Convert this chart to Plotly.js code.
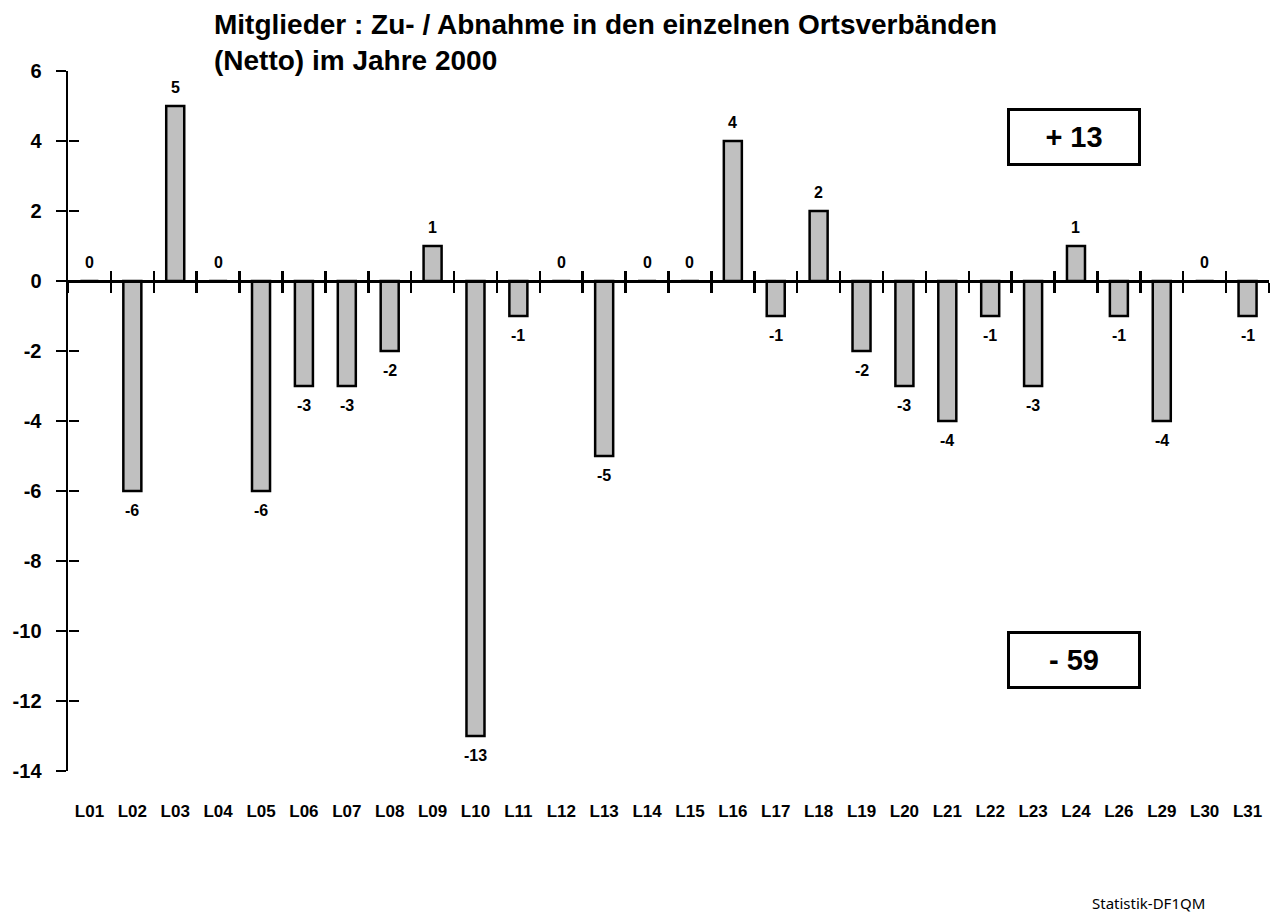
<!DOCTYPE html>
<html>
<head>
<meta charset="utf-8">
<script src="https://cdn.plot.ly/plotly-3.0.1.min.js"></script>
<style>html,body{margin:0;padding:0;background:#fff;}#chart{width:1282px;height:918px;}</style>
</head>
<body>
<div id="chart"></div>
<script>
const categories = ['L01','L02','L03','L04','L05','L06','L07','L08','L09','L10','L11','L12','L13','L14','L15','L16','L17','L18','L19','L20','L21','L22','L23','L24','L26','L29','L30','L31'];
const values = [0,-6,5,0,-6,-3,-3,-2,1,-13,-1,0,-5,0,0,4,-1,2,-2,-3,-4,-1,-3,1,-1,-4,0,-1];
const yTicks = [6,4,2,0,-2,-4,-6,-8,-10,-12,-14];
const titleLines = ['Mitglieder : Zu- / Abnahme in den einzelnen Ortsverbänden', '(Netto) im Jahre 2000'];
const totalPlus = '+ 13';
const totalMinus = '- 59';
const credit = 'Statistik-DF1QM';

const FONT = 'Arial, "Liberation Sans", sans-serif';
const xRange = [-0.5, categories.length - 0.5];
const yRange = [-14, 6];
const zeroPos = (0 - yRange[0]) / (yRange[1] - yRange[0]);
const LW = 2.5;

const traces = [
  {
    type: 'bar', x: categories, y: values, xaxis: 'x', yaxis: 'y',
    width: 0.42,
    marker: {color: '#c0c0c0', line: {color: '#000', width: LW}},
    hoverinfo: 'x+y', showlegend: false
  },
  {
    type: 'scatter', mode: 'markers', x: categories, y: values, xaxis: 'x2', yaxis: 'y',
    marker: {opacity: 0}, hoverinfo: 'skip', showlegend: false
  },
  {
    type: 'scatter', mode: 'markers', x: categories, y: values, xaxis: 'x3', yaxis: 'y2',
    marker: {opacity: 0}, hoverinfo: 'skip', showlegend: false
  }
];

const annotations = values.map((v, i) => ({
  x: categories[i], y: v, xref: 'x', yref: 'y',
  text: String(v), showarrow: false,
  xanchor: 'center', yanchor: 'middle',
  yshift: v >= 0 ? 19 : -19,
  font: {family: FONT, size: 16, color: '#000', weight: 'bold'}
}));

function totalBox(text, y) {
  return {
    xref: 'paper', yref: 'paper', x: 0.8376, y: y,
    xanchor: 'center', yanchor: 'middle',
    text: text, showarrow: false,
    width: 124, height: 48, borderpad: 2, bordercolor: '#000', borderwidth: 3,
    bgcolor: '#fff',
    font: {family: FONT, size: 29, color: '#000', weight: 'bold'}
  };
}
annotations.push(totalBox(totalPlus, 0.906));
annotations.push(totalBox(totalMinus, 0.159));
annotations.push({
  xref: 'paper', yref: 'paper', x: 0.948, y: -0.189,
  xanchor: 'right', yanchor: 'middle',
  text: credit, showarrow: false,
  font: {family: '"Noto Sans", "Open Sans", sans-serif', size: 15, color: '#000'}
});

const layout = {
  width: 1282, height: 918,
  paper_bgcolor: '#fff', plot_bgcolor: '#fff',
  margin: {l: 68, r: 13, t: 71, b: 147},
  showlegend: false,
  bargap: 0,
  title: {
    text: titleLines.join('<br>'),
    xref: 'container', yref: 'container',
    x: 214 / 1282, xanchor: 'left',
    y: 1 - 34 / 918, yanchor: 'top',
    font: {family: FONT, size: 28, color: '#000', weight: 'bold'}
  },
  xaxis: {
    type: 'category', categoryarray: categories, categoryorder: 'array',
    range: xRange, domain: [0, 1],
    showline: false, showgrid: false, zeroline: false,
    ticks: 'outside', ticklen: 0, tickcolor: 'rgba(0,0,0,0)',
    tickmode: 'linear', tick0: 0, dtick: 1,
    ticklabelstandoff: 25,
    tickfont: {family: FONT, size: 17, color: '#000', weight: 'bold'},
    fixedrange: true
  },
  xaxis2: {
    type: 'category', categoryarray: categories, categoryorder: 'array',
    overlaying: 'x', anchor: 'free', position: zeroPos, side: 'bottom',
    range: xRange,
    showline: true, linecolor: '#000', linewidth: LW,
    showgrid: false, zeroline: false,
    tickmode: 'linear', tick0: 0, dtick: 1,
    tickson: 'boundaries', ticks: 'outside', ticklen: 10, tickwidth: LW, tickcolor: '#000',
    showticklabels: false, fixedrange: true
  },
  xaxis3: {
    type: 'category', categoryarray: categories, categoryorder: 'array',
    overlaying: 'x', anchor: 'free', position: zeroPos, side: 'bottom',
    range: xRange,
    showline: false, showgrid: false, zeroline: false,
    tickmode: 'linear', tick0: 0, dtick: 1,
    tickson: 'boundaries', ticks: 'inside', ticklen: 10, tickwidth: LW, tickcolor: '#000',
    showticklabels: false, fixedrange: true
  },
  yaxis: {
    range: yRange, domain: [0, 1],
    tickmode: 'array', tickvals: yTicks, ticktext: yTicks.map(String),
    showline: true, linecolor: '#000', linewidth: LW,
    showgrid: false, zeroline: false,
    ticks: 'outside', ticklen: 10, tickwidth: LW, tickcolor: '#000',
    ticklabelstandoff: 10,
    tickfont: {family: FONT, size: 20, color: '#000', weight: 'bold'},
    fixedrange: true
  },
  yaxis2: {
    range: yRange, overlaying: 'y', anchor: 'free', position: 0, side: 'left',
    tickmode: 'array', tickvals: yTicks,
    showline: false, showgrid: false, zeroline: false,
    ticks: 'inside', ticklen: 10, tickwidth: LW, tickcolor: '#000',
    showticklabels: false, fixedrange: true
  },
  annotations: annotations
};

Plotly.newPlot('chart', traces, layout, {displayModeBar: false, staticPlot: true});
</script>
</body>
</html>
